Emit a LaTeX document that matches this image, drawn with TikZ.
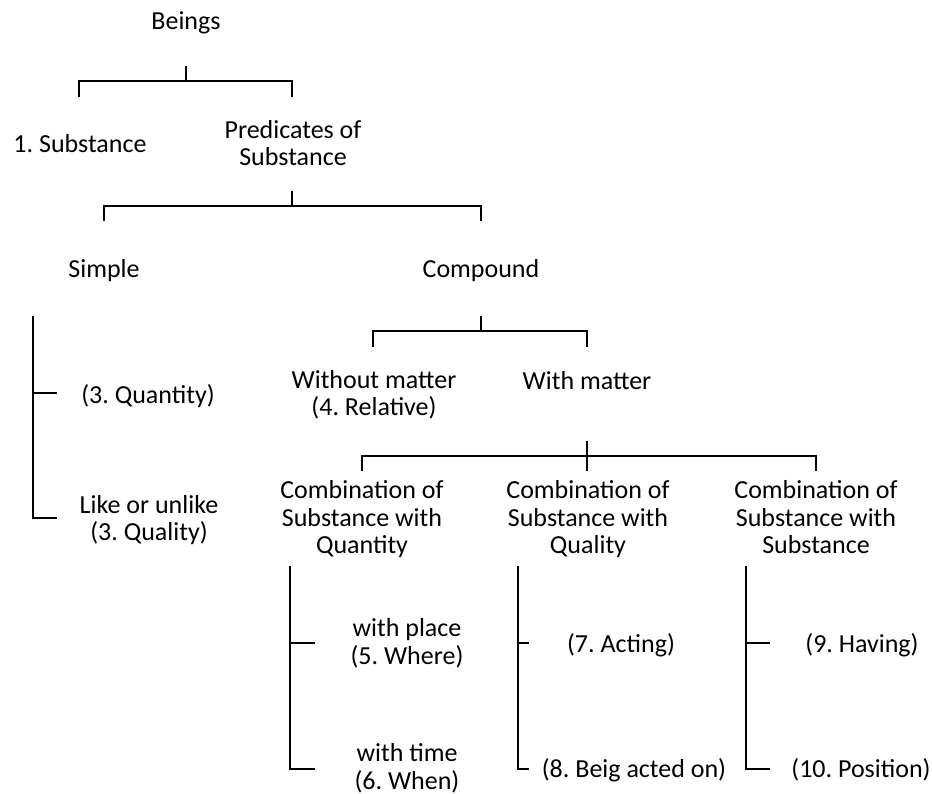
\documentclass[tikz,border=0pt]{standalone}
\usepackage{fontspec}
\setmainfont{Carlito}
\frenchspacing
\begin{document}
\begin{tikzpicture}[x=1pt,y=-1pt,
  lbl/.style={inner sep=0pt,align=center,font=\fontsize{26}{27.5}\selectfont},
  br/.style={line width=2.7pt,line cap=butt,line join=miter}]
\useasboundingbox (0,0) rectangle (932,794);
% texts
\node[lbl] (beings) at (186,24) {\strut Beings};
\node[lbl] (subst) at (80,147.5) {\strut 1. Substance};
\node[lbl] (pred) at (293,146.5) {\strut Predicates of\\\strut Substance};
\node[lbl] (simple) at (104,272) {\strut Simple};
\node[lbl] (compound) at (481,272) {\strut Compound};
\node[lbl] (quant) at (148,397.5) {\strut (3. Quantity)};
\node[lbl] (qual) at (149,521.5) {\strut Like or unlike\\\strut (3. Quality)};
\node[lbl] (without) at (374,396.5) {\strut Without matter\\\strut (4. Relative)};
\node[lbl] (with) at (587,383.5) {\strut With matter};
\node[lbl] (cq) at (362,520.5) {\strut Combination of\\\strut Substance with\\\strut Quantity};
\node[lbl] (cl) at (588,520.5) {\strut Combination of\\\strut Substance with\\\strut Quality};
\node[lbl] (cs) at (816,520.5) {\strut Combination of\\\strut Substance with\\\strut Substance};
\node[lbl] (where) at (407,645) {\strut with place\\\strut (5. Where)};
\node[lbl] (when) at (407,770) {\strut with time\\\strut (6. When)};
\node[lbl] (acting) at (621,646.5) {\strut (7. Acting)};
\node[lbl] (acted) at (634,771.5) {\strut (8. Beig acted on)};
\node[lbl] (having) at (862,646.5) {\strut (9. Having)};
\node[lbl] (position) at (861,771.5) {\strut (10. Position)};
% brackets
\draw[br] (186,66) -- (186,81);
\draw[br] (79,97) -- (79,81) -- (292,81) -- (292,97);
\draw[br] (292,191) -- (292,206);
\draw[br] (104,221) -- (104,206) -- (481,206) -- (481,221);
\draw[br] (481,316) -- (481,331);
\draw[br] (373,347) -- (373,331) -- (587,331) -- (587,347);
\draw[br] (587,441) -- (587,471);
\draw[br] (362,471) -- (362,456) -- (816,456) -- (816,471);
% lists
\draw[br] (33,316) -- (33,518) -- (57,518);
\draw[br] (33,393) -- (57,393);
\draw[br] (290,566) -- (290,769) -- (315,769);
\draw[br] (290,643) -- (315,643);
\draw[br] (518,566) -- (518,769) -- (529,769);
\draw[br] (518,643) -- (529,643);
\draw[br] (746,566) -- (746,769) -- (770,769);
\draw[br] (746,643) -- (770,643);
\end{tikzpicture}
\end{document}
